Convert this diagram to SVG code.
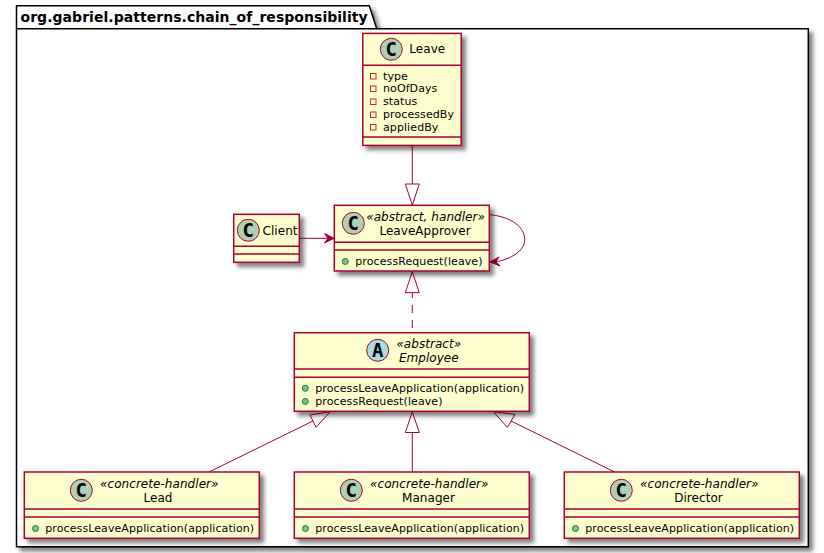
<svg xmlns="http://www.w3.org/2000/svg" width="824" height="553" viewBox="0 0 824 553">
<style>
text{font-family:"DejaVu Sans",sans-serif;fill:#000}
.box{fill:#FEFECE;stroke:#A80036;stroke-width:1.5;filter:url(#sh)}
.div{stroke:#A80036;stroke-width:1.5;fill:none}
.cc{fill:#ADD1B2;stroke:#A80036;stroke-width:1}
.ca{fill:#A9DCDF;stroke:#A80036;stroke-width:1}
.gl{font-family:"DejaVu Sans Mono",monospace;font-size:19px;font-weight:bold;text-anchor:middle}
.n{font-size:12px;letter-spacing:.05px}
.nm{font-size:12px;letter-spacing:.05px;text-anchor:middle}
.st{font-size:12px;font-style:italic;letter-spacing:.05px;text-anchor:middle}
.m{font-size:11px;letter-spacing:.09px}
.pub{fill:#84BE84;stroke:#038048;stroke-width:1}
.pri{fill:none;stroke:#C82930;stroke-width:1}
.ln{stroke:#A80036;stroke-width:1;fill:none}
.tri{fill:#fff;stroke:#A80036;stroke-width:1}
.ah{fill:#A80036;stroke:#A80036;stroke-width:1}
</style>
<defs>
<filter id="sh" x="-20%" y="-20%" width="140%" height="140%">
<feDropShadow dx="4" dy="4" stdDeviation="2" flood-color="#000" flood-opacity="0.5"/>
</filter>
</defs>
<rect width="824" height="553" fill="#fff"/>
<g id="package">
<path d="M16.5,28.7 V5.7 H369.3 L376.7,28.7 H808.3 V546.7 H16.5 Z" fill="#fff" stroke="#000" stroke-width="1.5" style="filter:url(#sh)"/>
<path d="M16.5,28.7 H376.7" fill="none" stroke="#000" stroke-width="1.5"/>
<text x="20.5" y="21.5" font-size="14" font-weight="bold" letter-spacing=".04">org.gabriel.patterns.chain_of_responsibility</text>
</g>
<g id="connectors">
<path class="ln" d="M412.3,145.5 V184"/>
<path class="tri" d="M412.3,205 L405.3,184 H419.3 Z"/>
<path class="ln" d="M299.5,238.3 H328"/>
<path class="ah" d="M334,238.3 L324.5,233.5 L328,238.3 L324.5,243 Z"/>
<path class="ln" d="M489.5,214.7 C506,216 524.7,224 524.7,240 C524.7,252 508,260 496,261.7"/>
<path class="ah" d="M490,262 L500,266 L496,261.7 L499,257 Z"/>
<path class="tri" d="M412.3,271.7 L405.3,292.7 H419.3 Z"/>
<path class="ln" d="M412.3,292.7 V332.7" stroke-dasharray="8,7" stroke-dashoffset="2.7"/>
<path class="ln" d="M313,421 L209,472"/>
<path class="tri" d="M330.3,411.7 L310,415 L316,427.3 Z"/>
<path class="ln" d="M412.3,432.5 V472"/>
<path class="tri" d="M412.3,411.7 L405.3,432.5 H419.3 Z"/>
<path class="ln" d="M511,421 L614.7,472"/>
<path class="tri" d="M493.3,411.7 L515,414.5 L507.3,427.3 Z"/>
</g>
<g id="Leave">
<rect class="box" x="362.8" y="33.4" width="98.4" height="112"/>
<path class="div" d="M362.8,65.3 H461.2 M362.8,137 H461.2"/>
<circle class="cc" cx="391.3" cy="49.3" r="11"/>
<text class="gl" x="391.3" y="56.3">C</text>
<text class="n" x="409.3" y="53">Leave</text>
<rect class="pri" x="370.5" y="73.5" width="5.5" height="5.5"/>
<text class="m" x="383" y="79.5">type</text>
<rect class="pri" x="370.5" y="86" width="5.5" height="5.5"/>
<text class="m" x="383" y="92">noOfDays</text>
<rect class="pri" x="370.5" y="99" width="5.5" height="5.5"/>
<text class="m" x="383" y="105">status</text>
<rect class="pri" x="370.5" y="112" width="5.5" height="5.5"/>
<text class="m" x="383" y="118">processedBy</text>
<rect class="pri" x="370.5" y="124.5" width="5.5" height="5.5"/>
<text class="m" x="383" y="130.5">appliedBy</text>
</g>
<g id="Client">
<rect class="box" x="233.7" y="214.3" width="65.6" height="48"/>
<path class="div" d="M233.7,246.3 H299.3 M233.7,254 H299.3"/>
<circle class="cc" cx="248.3" cy="230.3" r="11"/>
<text class="gl" x="248.3" y="237.3">C</text>
<text class="n" x="262.5" y="235">Client</text>
</g>
<g id="LeaveApprover">
<rect class="box" x="334.3" y="205.3" width="155" height="65.7"/>
<path class="div" d="M334.3,242.3 H489.3 M334.3,250 H489.3"/>
<circle class="cc" cx="353.3" cy="223.3" r="11"/>
<text class="gl" x="353.3" y="230.3">C</text>
<text class="st" x="425.6" y="221">«abstract, handler»</text>
<text class="nm" x="425" y="235">LeaveApprover</text>
<circle class="pub" cx="345.3" cy="261.5" r="3"/>
<text class="m" x="355.3" y="265">processRequest(leave)</text>
</g>
<g id="Employee">
<rect class="box" x="294.3" y="332.7" width="235" height="78.6"/>
<path class="div" d="M294.3,369 H529.3 M294.3,377.3 H529.3"/>
<circle class="ca" cx="377.7" cy="350.3" r="11"/>
<text class="gl" x="377.7" y="357.3">A</text>
<text class="st" x="428.8" y="347.5">«abstract»</text>
<text class="st" x="428.8" y="362">Employee</text>
<circle class="pub" cx="305.3" cy="388.3" r="3"/>
<text class="m" x="315.3" y="392">processLeaveApplication(application)</text>
<circle class="pub" cx="305.3" cy="401.5" r="3"/>
<text class="m" x="315.3" y="405">processRequest(leave)</text>
</g>
<g id="Lead">
<rect class="box" x="24.3" y="472" width="235" height="66.3"/>
<path class="div" d="M24.3,509 H259.3 M24.3,517 H259.3"/>
<circle class="cc" cx="81.3" cy="490.3" r="11"/>
<text class="gl" x="81.3" y="497.3">C</text>
<text class="st" x="159.3" y="488">«concrete-handler»</text>
<text class="nm" x="158" y="502">Lead</text>
<circle class="pub" cx="35.5" cy="528.5" r="3"/>
<text class="m" x="45.3" y="532">processLeaveApplication(application)</text>
</g>
<g id="Manager">
<rect class="box" x="294.3" y="472" width="235" height="66.3"/>
<path class="div" d="M294.3,509 H529.3 M294.3,517 H529.3"/>
<circle class="cc" cx="351.3" cy="490.3" r="11"/>
<text class="gl" x="351.3" y="497.3">C</text>
<text class="st" x="429.3" y="488">«concrete-handler»</text>
<text class="nm" x="428.5" y="502">Manager</text>
<circle class="pub" cx="305.5" cy="528.5" r="3"/>
<text class="m" x="315.3" y="532">processLeaveApplication(application)</text>
</g>
<g id="Director">
<rect class="box" x="564.3" y="472" width="235" height="66.3"/>
<path class="div" d="M564.3,509 H799.3 M564.3,517 H799.3"/>
<circle class="cc" cx="621.3" cy="490.3" r="11"/>
<text class="gl" x="621.3" y="497.3">C</text>
<text class="st" x="699.3" y="488">«concrete-handler»</text>
<text class="nm" x="698.5" y="502">Director</text>
<circle class="pub" cx="575.5" cy="528.5" r="3"/>
<text class="m" x="585.3" y="532">processLeaveApplication(application)</text>
</g>
</svg>
